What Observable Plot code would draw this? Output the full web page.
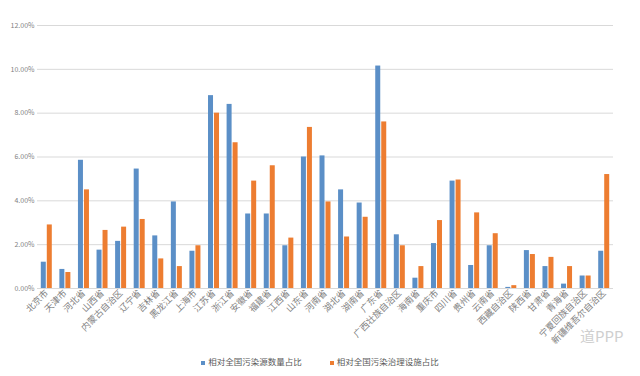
<!DOCTYPE html>
<html>
<head>
<meta charset="utf-8">
<script src="https://cdn.jsdelivr.net/npm/d3@7"></script>
<script src="https://cdn.jsdelivr.net/npm/@observablehq/plot@0.6"></script>
<style>
  html, body { margin: 0; padding: 0; background: #fff; }
  body { width: 640px; height: 376px; position: relative; overflow: hidden; font-family: "Noto Sans CJK SC", sans-serif; }
  #chart { position: absolute; top: 0; left: 0; }
  #legend { position: absolute; top: 355px; left: 0; width: 640px; display: flex; justify-content: center; gap: 28px; font-size: 8.5px; color: #595959; }
  #legend span.sw { display: inline-block; width: 4px; height: 4px; margin-right: 3px; vertical-align: middle; }
  #wm { position: absolute; left: 580px; top: 325px; font-size: 15px; color: #cfcfcf; font-family: "Noto Sans CJK SC", sans-serif; }
</style>
</head>
<body>
<div id="chart"></div>
<div id="legend"></div>
<div id="wm">道PPP</div>
<script>
const provinces = ["北京市","天津市","河北省","山西省","内蒙古自治区","辽宁省","吉林省","黑龙江省","上海市","江苏省","浙江省","安徽省","福建省","江西省","山东省","河南省","湖北省","湖南省","广东省","广西壮族自治区","海南省","重庆市","四川省","贵州省","云南省","西藏自治区","陕西省","甘肃省","青海省","宁夏回族自治区","新疆维吾尔自治区"];
const sourceShare = [1.2,0.87,5.85,1.75,2.15,5.45,2.4,3.95,1.7,8.8,8.4,3.4,3.4,1.95,6.0,6.05,4.5,3.9,10.15,2.45,0.47,2.05,4.9,1.05,1.95,0.05,1.73,1.0,0.2,0.57,1.7];
const facilityShare = [2.9,0.73,4.5,2.65,2.8,3.15,1.35,1.0,1.95,8.0,6.65,4.9,5.6,2.3,7.35,3.95,2.35,3.25,7.6,1.95,1.0,3.1,4.95,3.45,2.5,0.13,1.55,1.42,1.0,0.57,5.2];
const seriesNames = ["相对全国污染源数量占比","相对全国污染治理设施占比"];
const seriesColors = ["#5b8fc7","#ed7d31"];
const yTicks = [0,2,4,6,8,10,12];

const data1 = provinces.map((p,i)=>({province:p, value:sourceShare[i]}));
const data2 = provinces.map((p,i)=>({province:p, value:facilityShare[i]}));

const W = 640, ml = 37, mr = 27;
const band = (W - ml - mr) / provinces.length;
const barW = 5, gap = 1;
const off = (band - 2*barW - gap) / 2;

const chart = Plot.plot({
  width: W,
  height: 350,
  marginTop: 25,
  marginBottom: 62,
  marginLeft: ml,
  marginRight: mr,
  style: { fontFamily: "'Noto Sans CJK SC', sans-serif", color: "#595959", background: "transparent" },
  x: { domain: provinces, padding: 0, round: false, label: null },
  y: { domain: [0,12], label: null },
  marks: [
    Plot.gridY(yTicks, { stroke: "#d9d9d9", strokeOpacity: 1 }),
    Plot.axisY(yTicks, { tickSize: 0, tickPadding: 3, tickFormat: d => d.toFixed(2) + "%", fontSize: 7, fill: "#7f7f7f", label: null }),
    Plot.axisX({ tickSize: 0, tickPadding: 3, tickRotate: -45, fontSize: 9, fill: "#7f7f7f", label: null }),
    Plot.barY(data1, { x: "province", y: "value", fill: seriesColors[0], insetLeft: off, insetRight: band - off - barW }),
    Plot.barY(data2, { x: "province", y: "value", fill: seriesColors[1], insetLeft: off + barW + gap, insetRight: off }),
    Plot.ruleY([0], { stroke: "#d9d9d9" })
  ]
});
document.getElementById("chart").append(chart);

const lg = document.getElementById("legend");
seriesNames.forEach((n,i)=>{
  const d = document.createElement("div");
  d.innerHTML = `<span class="sw" style="background:${seriesColors[i]}"></span>${n}`;
  lg.append(d);
});
</script>
</body>
</html>
